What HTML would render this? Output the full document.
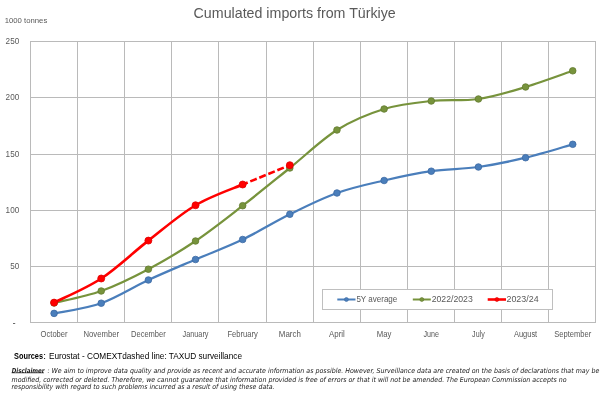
<!DOCTYPE html>
<html><head><meta charset="utf-8"><title>Cumulated imports from Türkiye</title>
<style>
html,body{margin:0;padding:0;background:#fff;}
body{width:600px;height:400px;overflow:hidden;}
svg{display:block;font-family:"Liberation Sans",Arial,sans-serif;}
</style></head><body>
<svg width="600" height="400" viewBox="0 0 600 400">
<rect width="600" height="400" fill="#fff"/>
<rect x="30" y="41" width="1" height="282" fill="#bababa"/>
<rect x="77" y="41" width="1" height="282" fill="#bababa"/>
<rect x="124" y="41" width="1" height="282" fill="#bababa"/>
<rect x="171" y="41" width="1" height="282" fill="#bababa"/>
<rect x="218" y="41" width="1" height="282" fill="#bababa"/>
<rect x="266" y="41" width="1" height="282" fill="#bababa"/>
<rect x="313" y="41" width="1" height="282" fill="#bababa"/>
<rect x="360" y="41" width="1" height="282" fill="#bababa"/>
<rect x="407" y="41" width="1" height="282" fill="#bababa"/>
<rect x="454" y="41" width="1" height="282" fill="#bababa"/>
<rect x="501" y="41" width="1" height="282" fill="#bababa"/>
<rect x="548" y="41" width="1" height="282" fill="#bababa"/>
<rect x="595" y="41" width="1" height="282" fill="#bababa"/>
<rect x="30" y="41" width="566" height="1" fill="#bababa"/>
<rect x="30" y="97" width="566" height="1" fill="#bababa"/>
<rect x="30" y="154" width="566" height="1" fill="#bababa"/>
<rect x="30" y="210" width="566" height="1" fill="#bababa"/>
<rect x="30" y="266" width="566" height="1" fill="#bababa"/>
<rect x="30" y="322" width="566" height="1" fill="#bababa"/>
<path d="M54.08,313.40 C61.93,311.70 85.51,308.77 101.22,303.20 C116.94,297.63 132.66,287.28 148.38,280.00 C164.09,272.72 179.81,266.25 195.53,259.50 C211.24,252.75 226.96,247.03 242.67,239.50 C258.39,231.97 274.11,222.05 289.82,214.30 C305.54,206.55 321.26,198.63 336.97,193.00 C352.69,187.37 368.41,184.13 384.12,180.50 C399.84,176.87 415.56,173.45 431.27,171.20 C446.99,168.95 462.71,169.25 478.43,167.00 C494.14,164.75 509.86,161.48 525.58,157.70 C541.29,153.92 564.87,146.53 572.73,144.30" fill="none" stroke="#4a7ebb" stroke-width="2.25" stroke-linejoin="round" stroke-linecap="round"/>
<circle cx="54.08" cy="313.40" r="3.3" fill="#4a7ebb" stroke="#3c6aa3" stroke-width="0.8"/>
<circle cx="101.22" cy="303.20" r="3.3" fill="#4a7ebb" stroke="#3c6aa3" stroke-width="0.8"/>
<circle cx="148.38" cy="280.00" r="3.3" fill="#4a7ebb" stroke="#3c6aa3" stroke-width="0.8"/>
<circle cx="195.53" cy="259.50" r="3.3" fill="#4a7ebb" stroke="#3c6aa3" stroke-width="0.8"/>
<circle cx="242.67" cy="239.50" r="3.3" fill="#4a7ebb" stroke="#3c6aa3" stroke-width="0.8"/>
<circle cx="289.82" cy="214.30" r="3.3" fill="#4a7ebb" stroke="#3c6aa3" stroke-width="0.8"/>
<circle cx="336.97" cy="193.00" r="3.3" fill="#4a7ebb" stroke="#3c6aa3" stroke-width="0.8"/>
<circle cx="384.12" cy="180.50" r="3.3" fill="#4a7ebb" stroke="#3c6aa3" stroke-width="0.8"/>
<circle cx="431.27" cy="171.20" r="3.3" fill="#4a7ebb" stroke="#3c6aa3" stroke-width="0.8"/>
<circle cx="478.43" cy="167.00" r="3.3" fill="#4a7ebb" stroke="#3c6aa3" stroke-width="0.8"/>
<circle cx="525.58" cy="157.70" r="3.3" fill="#4a7ebb" stroke="#3c6aa3" stroke-width="0.8"/>
<circle cx="572.73" cy="144.30" r="3.3" fill="#4a7ebb" stroke="#3c6aa3" stroke-width="0.8"/>
<path d="M54.08,303.00 C61.93,301.00 85.51,296.63 101.22,291.00 C116.94,285.37 132.66,277.53 148.38,269.20 C164.09,260.87 179.81,251.58 195.53,241.00 C211.24,230.42 226.96,217.87 242.67,205.70 C258.39,193.53 274.11,180.62 289.82,168.00 C305.54,155.38 321.26,139.83 336.97,130.00 C352.69,120.17 368.41,113.83 384.12,109.00 C399.84,104.17 415.56,102.67 431.27,101.00 C446.99,99.33 462.71,101.33 478.43,99.00 C494.14,96.67 509.86,91.70 525.58,87.00 C541.29,82.30 564.87,73.50 572.73,70.80" fill="none" stroke="#77933c" stroke-width="2.25" stroke-linejoin="round" stroke-linecap="round"/>
<circle cx="54.08" cy="303.00" r="3.3" fill="#77933c" stroke="#637b30" stroke-width="0.8"/>
<circle cx="101.22" cy="291.00" r="3.3" fill="#77933c" stroke="#637b30" stroke-width="0.8"/>
<circle cx="148.38" cy="269.20" r="3.3" fill="#77933c" stroke="#637b30" stroke-width="0.8"/>
<circle cx="195.53" cy="241.00" r="3.3" fill="#77933c" stroke="#637b30" stroke-width="0.8"/>
<circle cx="242.67" cy="205.70" r="3.3" fill="#77933c" stroke="#637b30" stroke-width="0.8"/>
<circle cx="289.82" cy="168.00" r="3.3" fill="#77933c" stroke="#637b30" stroke-width="0.8"/>
<circle cx="336.97" cy="130.00" r="3.3" fill="#77933c" stroke="#637b30" stroke-width="0.8"/>
<circle cx="384.12" cy="109.00" r="3.3" fill="#77933c" stroke="#637b30" stroke-width="0.8"/>
<circle cx="431.27" cy="101.00" r="3.3" fill="#77933c" stroke="#637b30" stroke-width="0.8"/>
<circle cx="478.43" cy="99.00" r="3.3" fill="#77933c" stroke="#637b30" stroke-width="0.8"/>
<circle cx="525.58" cy="87.00" r="3.3" fill="#77933c" stroke="#637b30" stroke-width="0.8"/>
<circle cx="572.73" cy="70.80" r="3.3" fill="#77933c" stroke="#637b30" stroke-width="0.8"/>
<path d="M54.08,302.60 C61.93,298.58 85.51,288.83 101.22,278.50 C116.94,268.17 132.66,252.81 148.38,240.60 C164.09,228.39 179.81,214.60 195.53,205.25 C211.24,195.90 234.82,187.96 242.67,184.50" fill="none" stroke="#ff0000" stroke-width="2.6" stroke-linejoin="round" stroke-linecap="round"/>
<path d="M242.67,184.50 L289.82,165.20" fill="none" stroke="#ff0000" stroke-width="2.6" stroke-dasharray="7 2.75" stroke-dashoffset="1.55"/>
<circle cx="54.08" cy="302.60" r="3.5" fill="#ff0000" stroke="#e00000" stroke-width="0.8"/>
<circle cx="101.22" cy="278.50" r="3.5" fill="#ff0000" stroke="#e00000" stroke-width="0.8"/>
<circle cx="148.38" cy="240.60" r="3.5" fill="#ff0000" stroke="#e00000" stroke-width="0.8"/>
<circle cx="195.53" cy="205.25" r="3.5" fill="#ff0000" stroke="#e00000" stroke-width="0.8"/>
<circle cx="242.67" cy="184.50" r="3.5" fill="#ff0000" stroke="#e00000" stroke-width="0.8"/>
<circle cx="289.82" cy="165.20" r="3.5" fill="#ff0000" stroke="#e00000" stroke-width="0.8"/>
<rect x="322.5" y="289.5" width="230" height="20" fill="#fff" stroke="#bfbfbf" stroke-width="1"/>
<line x1="337.3" y1="299.5" x2="355.5" y2="299.5" stroke="#4a7ebb" stroke-width="2.0"/>
<circle cx="346.4" cy="299.5" r="2.0" fill="#4a7ebb" stroke="#3c6aa3" stroke-width="0.6"/>
<text x="356.4" y="302.2" font-size="8.9" fill="#595959" textLength="40.9" lengthAdjust="spacingAndGlyphs">5Y average</text>
<line x1="412.8" y1="299.5" x2="430.8" y2="299.5" stroke="#77933c" stroke-width="2.0"/>
<circle cx="421.8" cy="299.5" r="2.0" fill="#77933c" stroke="#637b30" stroke-width="0.6"/>
<text x="431.7" y="302.2" font-size="8.9" fill="#595959" textLength="41.1" lengthAdjust="spacingAndGlyphs">2022/2023</text>
<line x1="487.7" y1="299.5" x2="506.0" y2="299.5" stroke="#ff0000" stroke-width="2.6"/>
<circle cx="496.9" cy="299.5" r="2.0" fill="#ff0000" stroke="#e00000" stroke-width="0.6"/>
<text x="506.5" y="302.2" font-size="8.9" fill="#595959" textLength="32.1" lengthAdjust="spacingAndGlyphs">2023/24</text>
<text x="193.6" y="17.9" font-size="14.1" fill="#595959" textLength="202.2" lengthAdjust="spacingAndGlyphs">Cumulated imports from Türkiye</text>
<text x="4.7" y="23.4" font-size="7.1" fill="#595959" textLength="42.6" lengthAdjust="spacingAndGlyphs">1000 tonnes</text>
<text x="5.6" y="44.2" font-size="9.6" fill="#595959" textLength="13.6" lengthAdjust="spacingAndGlyphs">250</text>
<text x="5.6" y="100.2" font-size="9.6" fill="#595959" textLength="13.6" lengthAdjust="spacingAndGlyphs">200</text>
<text x="5.6" y="157.2" font-size="9.6" fill="#595959" textLength="13.6" lengthAdjust="spacingAndGlyphs">150</text>
<text x="5.6" y="213.2" font-size="9.6" fill="#595959" textLength="13.6" lengthAdjust="spacingAndGlyphs">100</text>
<text x="10.2" y="269.2" font-size="9.6" fill="#595959" textLength="9.0" lengthAdjust="spacingAndGlyphs">50</text>
<rect x="13" y="323" width="2.2" height="0.9" fill="#595959"/>
<text x="40.58" y="337.0" font-size="8.4" fill="#595959" textLength="27.0" lengthAdjust="spacingAndGlyphs">October</text>
<text x="83.38" y="337.0" font-size="8.4" fill="#595959" textLength="35.7" lengthAdjust="spacingAndGlyphs">November</text>
<text x="131.03" y="337.0" font-size="8.4" fill="#595959" textLength="34.7" lengthAdjust="spacingAndGlyphs">December</text>
<text x="182.53" y="337.0" font-size="8.4" fill="#595959" textLength="26.0" lengthAdjust="spacingAndGlyphs">January</text>
<text x="227.47" y="337.0" font-size="8.4" fill="#595959" textLength="30.4" lengthAdjust="spacingAndGlyphs">February</text>
<text x="278.82" y="337.0" font-size="8.4" fill="#595959" textLength="22.0" lengthAdjust="spacingAndGlyphs">March</text>
<text x="329.06" y="337.0" font-size="8.4" fill="#595959" textLength="15.8" lengthAdjust="spacingAndGlyphs">April</text>
<text x="376.80" y="337.0" font-size="8.4" fill="#595959" textLength="14.6" lengthAdjust="spacingAndGlyphs">May</text>
<text x="423.54" y="337.0" font-size="8.4" fill="#595959" textLength="15.5" lengthAdjust="spacingAndGlyphs">June</text>
<text x="472.11" y="337.0" font-size="8.4" fill="#595959" textLength="12.6" lengthAdjust="spacingAndGlyphs">July</text>
<text x="513.92" y="337.0" font-size="8.4" fill="#595959" textLength="23.3" lengthAdjust="spacingAndGlyphs">August</text>
<text x="554.22" y="337.0" font-size="8.4" fill="#595959" textLength="37.0" lengthAdjust="spacingAndGlyphs">September</text>
<text y="358.5" font-size="9.8" fill="#000"><tspan x="14" font-weight="bold" textLength="29" lengthAdjust="spacingAndGlyphs">Sources</tspan><tspan x="43.2">:</tspan><tspan x="48.9" textLength="193.1" lengthAdjust="spacingAndGlyphs">Eurostat - COMEXTdashed line: TAXUD surveillance</tspan></text>
<text font-family="DejaVu Sans, Liberation Sans, sans-serif" font-style="italic" font-size="6.8" fill="#222" y="372.8"><tspan x="11.8" font-weight="bold" textLength="32.7" lengthAdjust="spacingAndGlyphs">Disclaimer</tspan><tspan x="45.5" textLength="553.8" lengthAdjust="spacingAndGlyphs"> : We aim to improve data quality and provide as recent and accurate information as possible. However, Surveillance data are created on the basis of declarations that may be</tspan></text>
<rect x="11.6" y="372.5" width="32.4" height="0.7" fill="#222"/>
<text font-family="DejaVu Sans, Liberation Sans, sans-serif" font-style="italic" font-size="6.8" fill="#222" x="11.5" y="381.5" textLength="555" lengthAdjust="spacingAndGlyphs">modified, corrected or deleted. Therefore, we cannot guarantee that information provided is free of errors or that it will not be amended. The European Commission accepts no</text>
<text font-family="DejaVu Sans, Liberation Sans, sans-serif" font-style="italic" font-size="6.8" fill="#222" x="11.5" y="389" textLength="263" lengthAdjust="spacingAndGlyphs">responsibility with regard to such problems incurred as a result of using these data.</text>
</svg>
</body></html>
